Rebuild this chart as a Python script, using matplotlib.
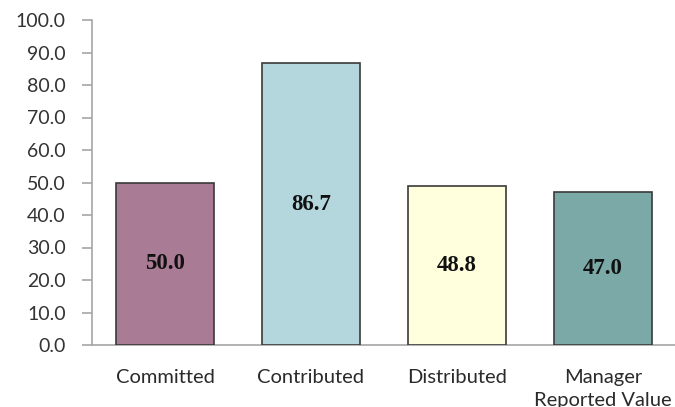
import matplotlib
matplotlib.use("Agg")
import matplotlib.pyplot as plt

categories = ["Committed", "Contributed", "Distributed", "Manager\nReported Value"]
values = [50.0, 86.7, 48.8, 47.0]
colors = ["#A97B94", "#B3D7DD", "#FFFFDD", "#7BA9A7"]
yticks = [0, 10, 20, 30, 40, 50, 60, 70, 80, 90, 100]

fig = plt.figure(figsize=(6.75, 4.07), dpi=100)
ax = fig.add_axes([92 / 675, 1 - 345 / 407, 584 / 675, 325 / 407])

x = range(len(categories))
bars = ax.bar(x, values, width=0.67, color=colors, edgecolor="#3a3a3a", linewidth=1.2, zorder=3)

for xi, v in zip(x, values):
    ax.text(xi, v / 2, f"{v:.1f}", ha="center", va="center",
            fontfamily="Liberation Serif", fontweight="bold", fontsize=16.5, color="#111111", zorder=4)

ax.set_xlim(-0.5, len(categories) - 0.5)
ax.set_ylim(0, 100)
ax.set_yticks(yticks)
ax.set_yticklabels([f"{t:.1f}" for t in yticks], fontfamily="Lato", fontsize=14, color="#333333")
ax.set_xticks(list(x))
ax.set_xticklabels(categories, fontfamily="Lato", fontsize=14.5, color="#2a2a2a", linespacing=1.45)

for side in ["top", "right"]:
    ax.spines[side].set_visible(False)
for side in ["left", "bottom"]:
    ax.spines[side].set_color("#A6A6A6")
    ax.spines[side].set_linewidth(1.2)

ax.tick_params(axis="y", length=7, width=1.2, color="#A6A6A6", pad=12)
ax.tick_params(axis="x", length=0, pad=17)

fig.savefig("out.png", dpi=100)
